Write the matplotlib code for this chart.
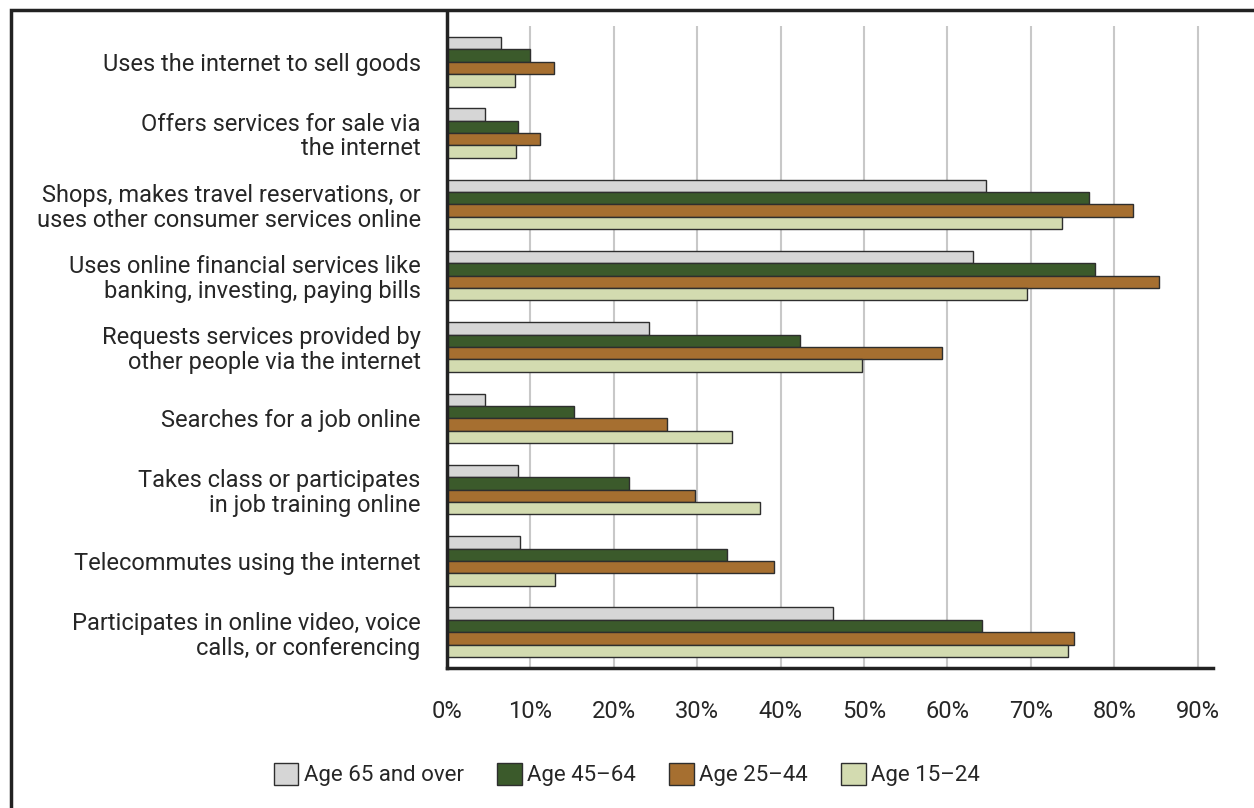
import numpy as np
import matplotlib
matplotlib.use("Agg")
import matplotlib.pyplot as plt
from matplotlib.patches import Rectangle

plt.rcParams['font.family'] = ['Roboto', 'DejaVu Sans']

# Activities, top to bottom
activities = [
    "Uses the internet to sell goods",
    "Offers services for sale via\nthe internet",
    "Shops, makes travel reservations, or\nuses other consumer services online",
    "Uses online financial services like\nbanking, investing, paying bills",
    "Requests services provided by\nother people via the internet",
    "Searches for a job online",
    "Takes class or participates\nin job training online",
    "Telecommutes using the internet",
    "Participates in online video, voice\ncalls, or conferencing",
]

# Share of internet users (%) by age group
age_65_over = [6.5, 4.6, 64.6, 63.1, 24.2, 4.6, 8.5, 8.7, 46.3]
age_45_64 = [10.0, 8.5, 77.0, 77.7, 42.3, 15.2, 21.8, 33.6, 64.1]
age_25_44 = [12.8, 11.1, 82.2, 85.4, 59.4, 26.4, 29.7, 39.2, 75.2]
age_15_24 = [8.2, 8.3, 73.7, 69.5, 49.7, 34.2, 37.5, 13.0, 74.5]

series = [age_65_over, age_45_64, age_25_44, age_15_24]
names = ["Age 65 and over", "Age 45\u201364", "Age 25\u201344", "Age 15\u201324"]
colors = ["#d6d6d6", "#3b5a2b", "#a66f30", "#d3dbb0"]
ticks = [0, 10, 20, 30, 40, 50, 60, 70, 80, 90]

fig = plt.figure(figsize=(12.54, 8.08), dpi=100)
ax = fig.add_axes([0.3565, 0.1733, 0.6105, 0.7945])

y = np.arange(len(activities))
h = 0.174
for i, (vals, name, col) in enumerate(zip(series, names, colors)):
    ax.barh(y + (i - 1.5) * h, vals, height=h, color=col, edgecolor="#2e2e2e",
            linewidth=1.0, label=name, zorder=3)

ax.set_ylim(8.5, -0.5)
ax.set_xlim(0, 91.8)
ax.set_yticks(y)
ax.set_yticklabels(activities, fontsize=17, color="#262626", linespacing=1.1)
ax.set_xticks(ticks)
ax.set_xticklabels([f"{t}%" for t in ticks], fontsize=17, color="#262626")
ax.tick_params(axis="y", length=0, pad=19)
ax.tick_params(axis="x", length=0, pad=23)

for t in ticks[1:]:
    ax.axvline(t, color="#c8c8c8", linewidth=1.5, zorder=1)

for s in ["top", "right"]:
    ax.spines[s].set_visible(False)
ax.spines["left"].set_linewidth(2.5)
ax.spines["bottom"].set_linewidth(2.5)
ax.spines["left"].set_color("#222222")
ax.spines["bottom"].set_color("#222222")
ax.spines["left"].set_bounds(8.5, -0.7)
ax.spines["left"].set_zorder(4)

fig.legend(loc="center", bbox_to_anchor=(0.5, 0.041), ncol=4, frameon=False,
           fontsize=16, handlelength=1.1, handleheight=1.1, handletextpad=0.25,
           columnspacing=1.5, labelcolor="#262626")

# outer frame
fig.patches.append(Rectangle((0.0088, -0.05), 1.2, 1.0376, transform=fig.transFigure,
                             fill=False, edgecolor="#222222", linewidth=2.5))

fig.savefig("out.png", dpi=100)
